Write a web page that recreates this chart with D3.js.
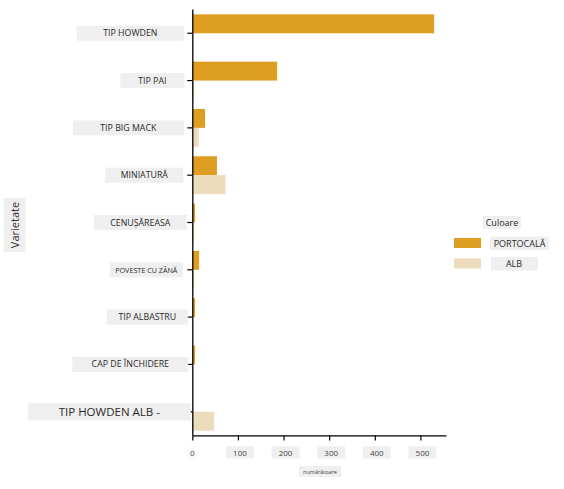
<!DOCTYPE html>
<html>
<head>
<meta charset="utf-8">
<script src="https://cdn.jsdelivr.net/npm/d3@7"></script>
<style>
  body { margin: 0; background: #fff; }
  text { font-family: "Open Sans", "Noto Sans", sans-serif; fill: #2a2a2a; }
</style>
</head>
<body>
<div class="wrapper"></div>
<script>
const varieties = ["TIP HOWDEN", "TIP PAI", "TIP BIG MACK", "MINIATURĂ", "CENUȘĂREASA",
    "POVESTE CU ZÂNĂ", "TIP ALBASTRU", "CAP DE ÎNCHIDERE", "TIP HOWDEN ALB -"]
const colorKeys = ["PORTOCALĂ", "ALB"]
const orangeCounts = [530, 186, 28, 54, 6, 15, 6, 6, 0]
const whiteCounts = [0, 4, 14, 73, 4, 4, 0, 0, 48]
const xTicks = [0, 100, 200, 300, 400, 500]

// label look, per category: font size, box width, centre offset from axis
const labelStyle = {
    "TIP HOWDEN": {fs: 8.8, w: 107, cx: -62},
    "TIP PAI": {fs: 8.8, w: 64, cx: -40},
    "TIP BIG MACK": {fs: 8.8, w: 111, cx: -64},
    "MINIATURĂ": {fs: 8.8, w: 78, cx: -48},
    "CENUȘĂREASA": {fs: 8.8, w: 93, cx: -52},
    "POVESTE CU ZÂNĂ": {fs: 7.2, w: 73, cx: -46},
    "TIP ALBASTRU": {fs: 8.8, w: 81, cx: -45},
    "CAP DE ÎNCHIDERE": {fs: 8.8, w: 116, cx: -62},
    "TIP HOWDEN ALB -": {fs: 11.5, w: 163, cx: -83},
}

const dataset = varieties.map((v, i) => ({
    variety: v,
    values: [
        {key: colorKeys[0], count: orangeCounts[i]},
        {key: colorKeys[1], count: whiteCounts[i]},
    ]
}))

const dimensions = {
    width: 564,
    height: 489,
    margin: {top: 9.6, left: 192.3, bottom: 53.6, right: 118},
}
dimensions.boundedWidth = dimensions.width - dimensions.margin.left - dimensions.margin.right
dimensions.boundedHeight = dimensions.height - dimensions.margin.top - dimensions.margin.bottom

const boxFill = "#efefef"

const wrapper = d3.select(".wrapper")
    .append("svg")
    .attr("width", dimensions.width)
    .attr("height", dimensions.height)

const bounds = wrapper.append("g")
    .attr("transform", `translate(${dimensions.margin.left}, ${dimensions.margin.top})`)

const xScale = d3.scaleLinear()
    .domain([0, 556])
    .range([0, dimensions.boundedWidth])

const yScale = d3.scaleBand()
    .domain(varieties)
    .range([0, dimensions.boundedHeight])
    .paddingInner(0.2)
    .paddingOuter(0.1)

const subScale = d3.scaleBand()
    .domain(colorKeys)
    .range([0, yScale.bandwidth()])

const colorScale = d3.scaleOrdinal()
    .domain(colorKeys)
    .range(["#de9e22", "#eddcbb"])

// bars
const groups = bounds.selectAll(".group")
    .data(dataset)
    .enter().append("g")
    .attr("transform", d => `translate(0, ${yScale(d.variety)})`)

groups.selectAll("rect")
    .data(d => d.values)
    .enter().append("rect")
    .attr("x", 0)
    .attr("y", d => subScale(d.key))
    .attr("width", d => xScale(d.count))
    .attr("height", subScale.bandwidth())
    .attr("fill", d => colorScale(d.key))

// y axis
const yAxis = bounds.append("g")
    .call(d3.axisLeft(yScale).tickSize(5).tickSizeOuter(0).tickFormat(""))
yAxis.select(".domain").attr("stroke", "#000").attr("stroke-width", 1.3)
    .attr("d", `M0.5,0V${dimensions.boundedHeight}`)
yAxis.selectAll(".tick line").attr("stroke", "#000").attr("stroke-width", 1.2)

const yLabels = bounds.selectAll(".ylabel")
    .data(varieties)
    .enter().append("g")
    .attr("transform", d => `translate(0, ${yScale(d) + yScale.bandwidth() / 2})`)
yLabels.append("rect")
    .attr("x", d => labelStyle[d].cx - labelStyle[d].w / 2)
    .attr("y", d => -Math.max(7.5, labelStyle[d].fs * 0.75))
    .attr("width", d => labelStyle[d].w)
    .attr("height", d => Math.max(15, labelStyle[d].fs * 1.5))
    .attr("fill", boxFill)
yLabels.append("text")
    .attr("x", d => labelStyle[d].cx)
    .attr("text-anchor", "middle")
    .attr("dominant-baseline", "central")
    .style("font-size", d => labelStyle[d].fs + "px")
    .text(d => d)

// x axis
const xAxis = bounds.append("g")
    .attr("transform", `translate(0, ${dimensions.boundedHeight})`)
    .call(d3.axisBottom(xScale).tickValues(xTicks).tickSize(5).tickSizeOuter(0).tickFormat(""))
xAxis.select(".domain").attr("stroke", "#000").attr("stroke-width", 1.3)
xAxis.selectAll(".tick line").attr("stroke", "#000").attr("stroke-width", 1.2)

const xLabels = xAxis.selectAll(".xlabel")
    .data(xTicks)
    .enter().append("g")
    .attr("transform", d => `translate(${xScale(d) + (d === 0 ? 0 : 2)}, 17)`)
xLabels.append("rect")
    .attr("x", d => d === 0 ? -4.5 : -14)
    .attr("y", -6)
    .attr("width", d => d === 0 ? 9 : 28)
    .attr("height", 12)
    .attr("fill", d => d === 0 ? "#fafafa" : boxFill)
xLabels.append("text")
    .attr("text-anchor", "middle")
    .attr("dominant-baseline", "central")
    .style("font-size", "8px")
    .style("fill", "#444")
    .text(d => d)

const xTitle = wrapper.append("g")
    .attr("transform", `translate(320, 471.5)`)
xTitle.append("rect")
    .attr("x", -21).attr("y", -5.5).attr("width", 42).attr("height", 11)
    .attr("fill", boxFill)
xTitle.append("text")
    .attr("text-anchor", "middle")
    .attr("dominant-baseline", "central")
    .style("font-size", "5.5px")
    .style("fill", "#444")
    .text("numărătoare")

const yTitle = wrapper.append("g")
    .attr("transform", `translate(14.5, 225) rotate(-90)`)
yTitle.append("rect")
    .attr("x", -27).attr("y", -11).attr("width", 54).attr("height", 22)
    .attr("fill", boxFill)
yTitle.append("text")
    .attr("text-anchor", "middle")
    .attr("dominant-baseline", "central")
    .style("font-size", "11px")
    .style("fill", "#333")
    .text("Varietate")

// legend
const legendGroup = wrapper.append("g")
    .attr("transform", `translate(454, 0)`)
const legendTitle = legendGroup.append("g")
    .attr("transform", `translate(48, 222.5)`)
legendTitle.append("rect")
    .attr("x", -19).attr("y", -6.5).attr("width", 38).attr("height", 13)
    .attr("fill", boxFill)
legendTitle.append("text")
    .attr("text-anchor", "middle")
    .attr("dominant-baseline", "central")
    .style("font-size", "9px")
    .text("Culoare")

const legendItems = legendGroup.selectAll(".legend-item")
    .data(colorKeys)
    .enter().append("g")
    .attr("transform", (d, i) => `translate(0, ${243 + i * 20.5})`)
legendItems.append("rect")
    .attr("x", 0).attr("y", -5).attr("width", 27).attr("height", 10)
    .attr("fill", d => colorScale(d))
legendItems.append("rect")
    .attr("x", (d, i) => i === 0 ? 36 : 37)
    .attr("y", -6.5)
    .attr("width", (d, i) => i === 0 ? 59 : 47)
    .attr("height", 13.5)
    .attr("fill", boxFill)
legendItems.append("text")
    .attr("x", (d, i) => i === 0 ? 65.5 : 60)
    .attr("text-anchor", "middle")
    .attr("dominant-baseline", "central")
    .style("font-size", "9px")
    .text(d => d)
</script>
</body>
</html>
